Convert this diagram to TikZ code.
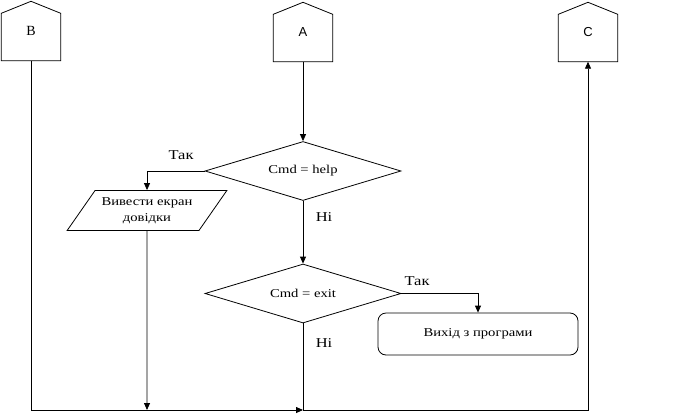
\documentclass[tikz,border=0pt]{standalone}
\usepackage{fontspec}
\setmainfont{Liberation Serif}
\setsansfont{Liberation Sans}
\newfontfamily\wideserif{Liberation Serif}[FakeStretch=1.22]
\usetikzlibrary{arrows.meta, shapes.geometric, positioning}
\tikzset{
	base/.style={draw=black, line width=0.8pt},
	arr/.style={base, -{Triangle[length=7pt, width=6pt]}},
	offpage/.style={inner sep=0pt, minimum width=59pt, minimum height=59pt},
	decision/.style={base, diamond, aspect=3.3, inner sep=0pt,
		minimum width=196pt, minimum height=59pt, font=\wideserif\fontsize{12}{16}\selectfont},
	io/.style={base, trapezium, trapezium left angle=47, trapezium right angle=133,
		trapezium stretches=true, minimum width=160pt, minimum height=40pt,
		align=center, inner sep=0pt, font=\wideserif\fontsize{12}{16}\selectfont},
	term/.style={base, rectangle, rounded corners=8pt, minimum width=200pt,
		minimum height=42pt, font=\wideserif\fontsize{12}{16}\selectfont},
	lbl/.style={inner sep=0pt, font=\wideserif\fontsize{13.5}{16}\selectfont}
}
\begin{document}
\begin{tikzpicture}[x=1pt, y=-1pt]
	\useasboundingbox (0,0) rectangle (676,415);
	% connectors to other pages
	\node[offpage, font=\fontsize{14}{16}\selectfont] (B) at (31,31) {B};
	\node[offpage, font=\sffamily\fontsize{13}{16}\selectfont] (A) at (303,32) {A};
	\node[offpage, font=\sffamily\fontsize{13}{16}\selectfont] (C) at (588,32) {C};
	\foreach \n in {B,A,C}
		\draw[base] (\n.south west) -- ([yshift=-12pt]\n.north west) -- (\n.north)
			-- ([yshift=-12pt]\n.north east) -- (\n.south east) -- cycle;
	% blocks
	\node[decision] (help) at (303,171) {Cmd = help};
	\node[io] (screen) at (147,210.5) {Вивести екран\\довідки};
	\node[decision] (exit) at (303,293.5) {Cmd = exit};
	\node[term] (quit) at (478,334) {Вихід з програми};
	\coordinate (drop) at (147,410);
	\coordinate (join) at (303,410);
	% labels
	\node[lbl] (yes1) at (181,155) {Так};
	\node[lbl] (no1) at (324,217) {Ні};
	\node[lbl] (yes2) at (417,281) {Так};
	\node[lbl] (no2) at (324,343) {Ні};
	% flow
	\draw[arr] (A.south) -- (help.north);
	\draw[arr] (help.west) -| (screen.north);
	\draw[arr] (screen.south) -- (drop);
	\draw[arr] (help.south) -- (exit.north);
	\draw[arr] (exit.east) -| (quit.north);
	\draw[arr] (B.south) |- (join);
	\draw[arr] (exit.south) -- (join) -| (C.south);
\end{tikzpicture}
\end{document}
